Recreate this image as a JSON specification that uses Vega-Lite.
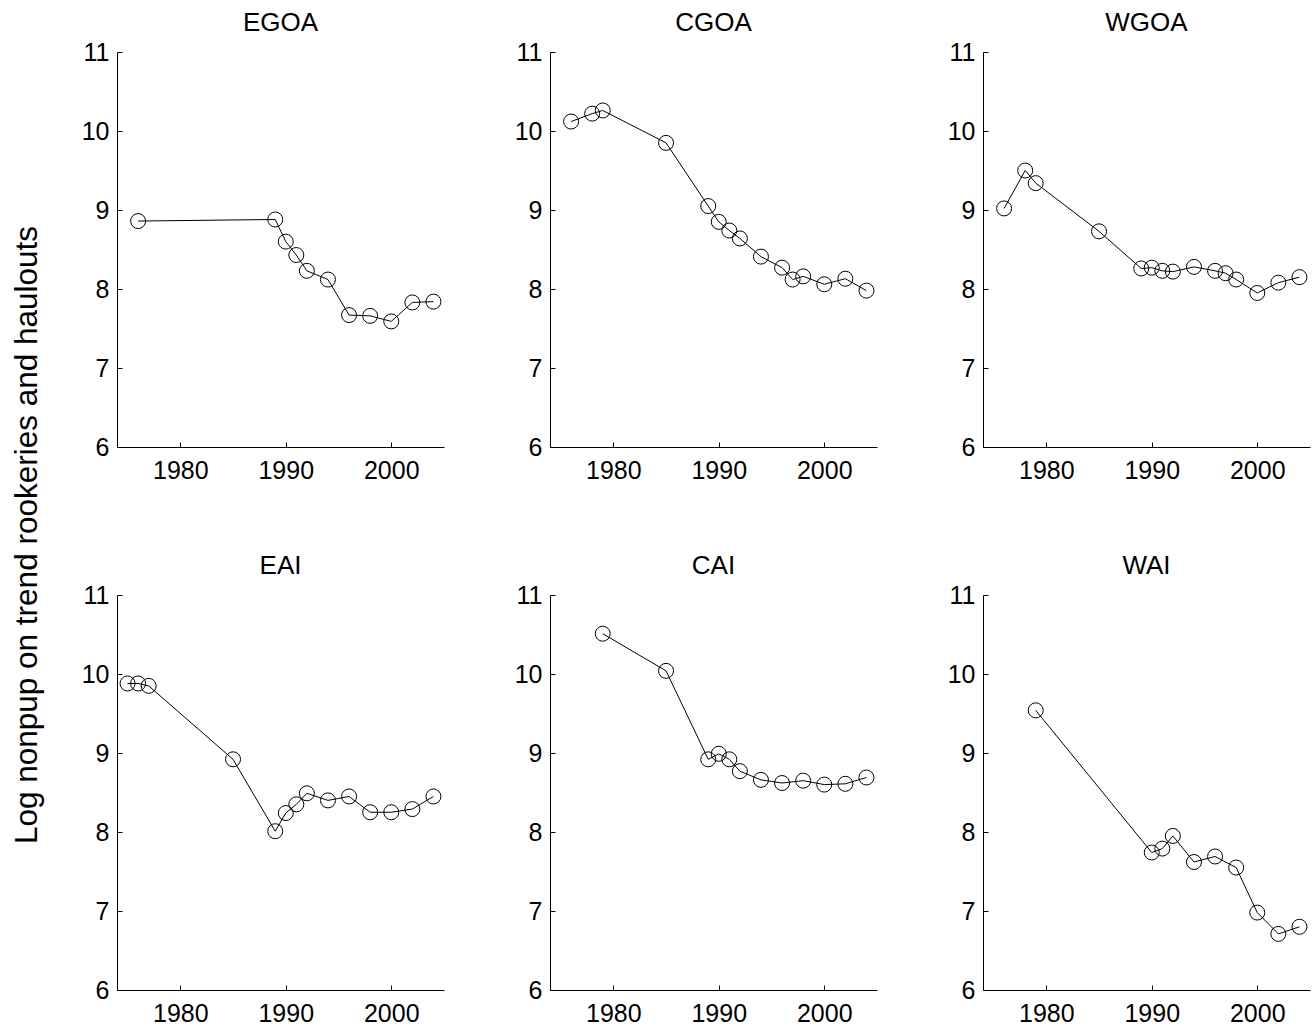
{
  "$schema": "https://vega.github.io/schema/vega-lite/v6.json",
  "padding": {"left": 11, "top": 10, "right": 5, "bottom": 5},
  "background": "white",
  "title": {"text": "Log nonpup on trend rookeries and haulouts", "orient": "left", "anchor": "middle", "fontSize": 31.5, "fontWeight": "normal", "font": "Liberation Sans", "color": "#000", "offset": 38, "dx": -17},
  "data": {"values": [
    {"region": "EGOA", "year": 1976, "value": 8.86},
    {"region": "EGOA", "year": 1989, "value": 8.88},
    {"region": "EGOA", "year": 1990, "value": 8.60},
    {"region": "EGOA", "year": 1991, "value": 8.43},
    {"region": "EGOA", "year": 1992, "value": 8.23},
    {"region": "EGOA", "year": 1994, "value": 8.12},
    {"region": "EGOA", "year": 1996, "value": 7.67},
    {"region": "EGOA", "year": 1998, "value": 7.66},
    {"region": "EGOA", "year": 2000, "value": 7.59},
    {"region": "EGOA", "year": 2002, "value": 7.83},
    {"region": "EGOA", "year": 2004, "value": 7.84},
    {"region": "CGOA", "year": 1976, "value": 10.12},
    {"region": "CGOA", "year": 1978, "value": 10.22},
    {"region": "CGOA", "year": 1979, "value": 10.26},
    {"region": "CGOA", "year": 1985, "value": 9.85},
    {"region": "CGOA", "year": 1989, "value": 9.05},
    {"region": "CGOA", "year": 1990, "value": 8.85},
    {"region": "CGOA", "year": 1991, "value": 8.74},
    {"region": "CGOA", "year": 1992, "value": 8.64},
    {"region": "CGOA", "year": 1994, "value": 8.41},
    {"region": "CGOA", "year": 1996, "value": 8.27},
    {"region": "CGOA", "year": 1997, "value": 8.12},
    {"region": "CGOA", "year": 1998, "value": 8.16},
    {"region": "CGOA", "year": 2000, "value": 8.06},
    {"region": "CGOA", "year": 2002, "value": 8.13},
    {"region": "CGOA", "year": 2004, "value": 7.98},
    {"region": "WGOA", "year": 1976, "value": 9.02},
    {"region": "WGOA", "year": 1978, "value": 9.50},
    {"region": "WGOA", "year": 1979, "value": 9.34},
    {"region": "WGOA", "year": 1985, "value": 8.73},
    {"region": "WGOA", "year": 1989, "value": 8.26},
    {"region": "WGOA", "year": 1990, "value": 8.27},
    {"region": "WGOA", "year": 1991, "value": 8.23},
    {"region": "WGOA", "year": 1992, "value": 8.22},
    {"region": "WGOA", "year": 1994, "value": 8.28},
    {"region": "WGOA", "year": 1996, "value": 8.23},
    {"region": "WGOA", "year": 1997, "value": 8.20},
    {"region": "WGOA", "year": 1998, "value": 8.12},
    {"region": "WGOA", "year": 2000, "value": 7.95},
    {"region": "WGOA", "year": 2002, "value": 8.08},
    {"region": "WGOA", "year": 2004, "value": 8.15},
    {"region": "EAI", "year": 1975, "value": 9.88},
    {"region": "EAI", "year": 1976, "value": 9.88},
    {"region": "EAI", "year": 1977, "value": 9.85},
    {"region": "EAI", "year": 1985, "value": 8.92},
    {"region": "EAI", "year": 1989, "value": 8.01},
    {"region": "EAI", "year": 1990, "value": 8.24},
    {"region": "EAI", "year": 1991, "value": 8.35},
    {"region": "EAI", "year": 1992, "value": 8.49},
    {"region": "EAI", "year": 1994, "value": 8.40},
    {"region": "EAI", "year": 1996, "value": 8.45},
    {"region": "EAI", "year": 1998, "value": 8.25},
    {"region": "EAI", "year": 2000, "value": 8.25},
    {"region": "EAI", "year": 2002, "value": 8.29},
    {"region": "EAI", "year": 2004, "value": 8.45},
    {"region": "CAI", "year": 1979, "value": 10.51},
    {"region": "CAI", "year": 1985, "value": 10.04},
    {"region": "CAI", "year": 1989, "value": 8.92},
    {"region": "CAI", "year": 1990, "value": 8.99},
    {"region": "CAI", "year": 1991, "value": 8.92},
    {"region": "CAI", "year": 1992, "value": 8.77},
    {"region": "CAI", "year": 1994, "value": 8.66},
    {"region": "CAI", "year": 1996, "value": 8.62},
    {"region": "CAI", "year": 1998, "value": 8.65},
    {"region": "CAI", "year": 2000, "value": 8.60},
    {"region": "CAI", "year": 2002, "value": 8.61},
    {"region": "CAI", "year": 2004, "value": 8.69},
    {"region": "WAI", "year": 1979, "value": 9.54},
    {"region": "WAI", "year": 1990, "value": 7.74},
    {"region": "WAI", "year": 1991, "value": 7.79},
    {"region": "WAI", "year": 1992, "value": 7.95},
    {"region": "WAI", "year": 1994, "value": 7.62},
    {"region": "WAI", "year": 1996, "value": 7.69},
    {"region": "WAI", "year": 1998, "value": 7.55},
    {"region": "WAI", "year": 2000, "value": 6.98},
    {"region": "WAI", "year": 2002, "value": 6.71},
    {"region": "WAI", "year": 2004, "value": 6.80}
  ]},
  "facet": {"field": "region", "type": "nominal", "sort": ["EGOA", "CGOA", "WGOA", "EAI", "CAI", "WAI"], "header": {"title": null, "labelFontSize": 26, "labelFont": "Liberation Sans", "labelColor": "#000", "labelPadding": 4}},
  "columns": 3,
  "spacing": {"column": 70, "row": 70},
  "resolve": {"axis": {"x": "independent", "y": "independent"}},
  "spec": {
    "width": 327,
    "height": 395,
    "encoding": {
      "x": {"field": "year", "type": "quantitative", "scale": {"domain": [1974, 2005], "nice": false, "zero": false}, "axis": {"title": null, "values": [1980, 1990, 2000], "format": "d", "labelPadding": 16}},
      "y": {"field": "value", "type": "quantitative", "scale": {"domain": [6, 11], "nice": false, "zero": false}, "axis": {"title": null, "values": [6, 7, 8, 9, 10, 11], "format": "d", "labelPadding": 13}}
    },
    "layer": [
      {"mark": {"type": "line", "color": "#000", "strokeWidth": 1}},
      {"mark": {"type": "point", "shape": "circle", "filled": false, "color": "#000", "strokeWidth": 1, "size": 225, "opacity": 1}}
    ]
  },
  "config": {
    "view": {"stroke": null},
    "font": "Liberation Sans",
    "axis": {"grid": false, "domainColor": "#000", "tickColor": "#000", "labelColor": "#000", "labelFont": "Liberation Sans", "labelFontSize": 25, "tickSize": -5, "domainWidth": 1, "tickWidth": 1, "labelFlush": false, "labelOverlap": false}
  }
}
